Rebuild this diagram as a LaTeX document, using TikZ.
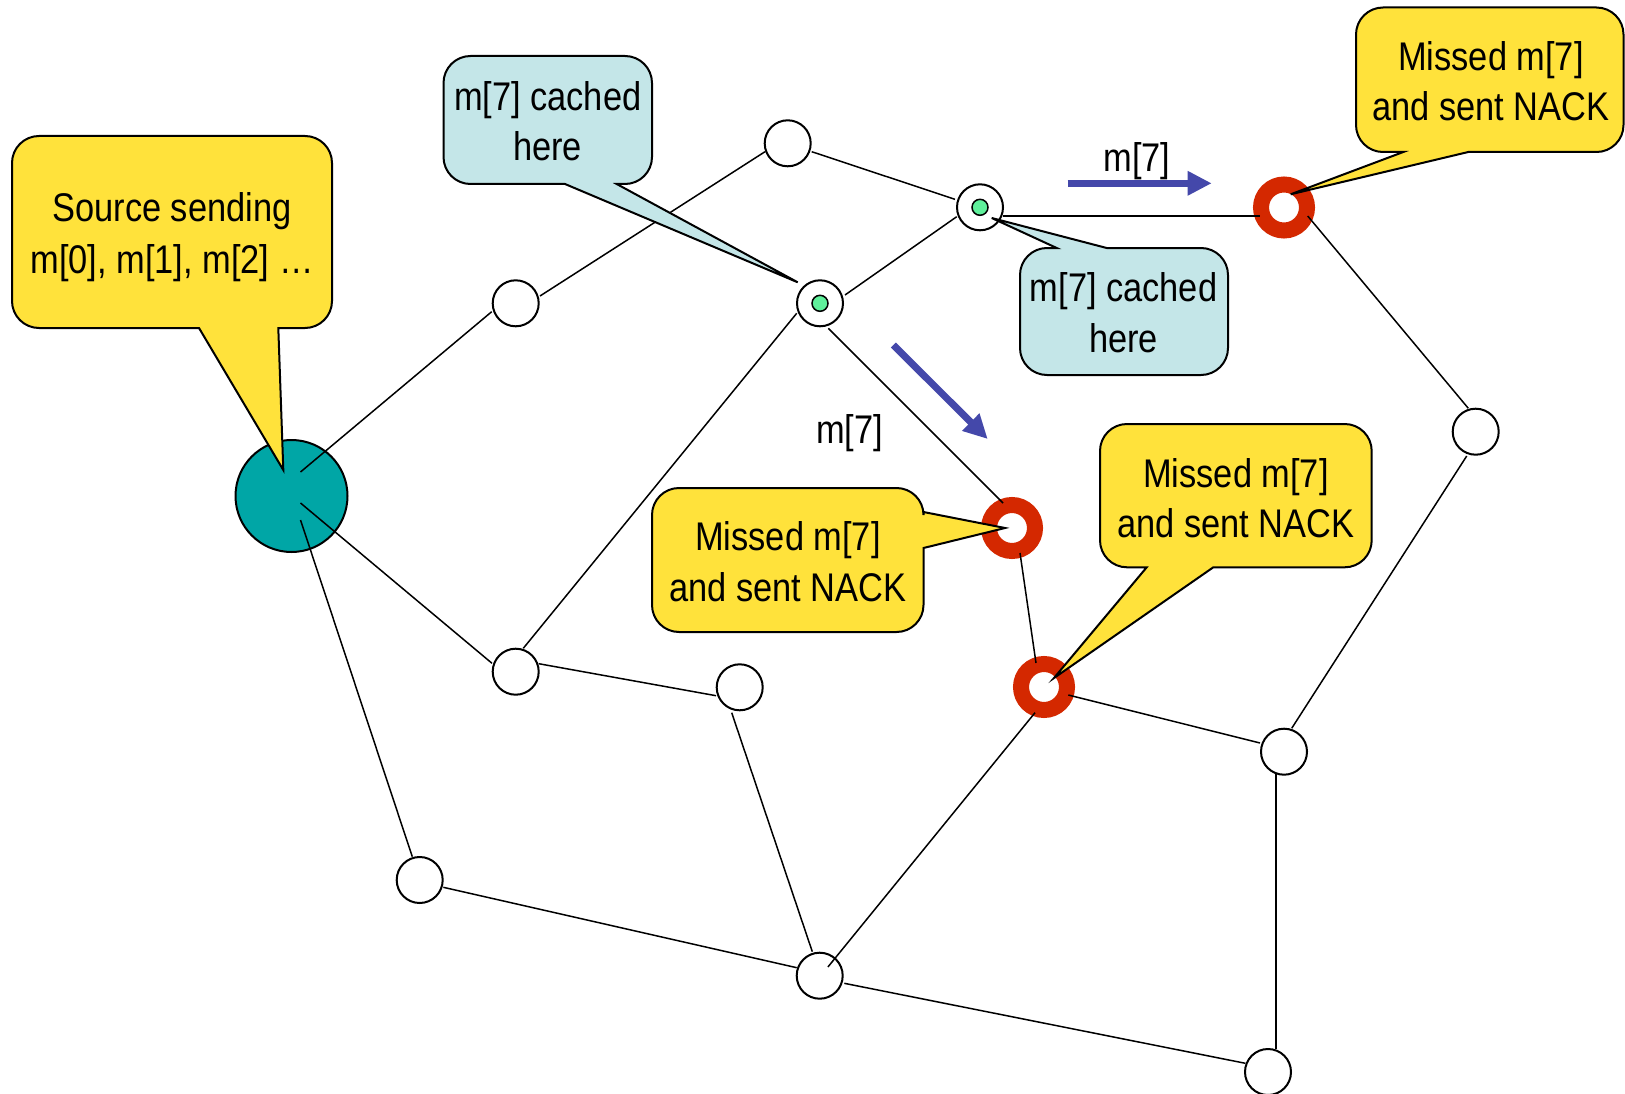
\documentclass[tikz,border=0pt]{standalone}
\usepackage{fontspec}
\setmainfont{Liberation Sans}[FakeStretch=0.86]
\usetikzlibrary{arrows.meta}

\definecolor{calloutyellow}{RGB}{255,226,59}
\definecolor{cachecyan}{RGB}{196,230,232}
\definecolor{lossred}{RGB}{212,40,0}
\definecolor{cachegreen}{RGB}{95,240,155}
\definecolor{sourceteal}{RGB}{0,166,166}
\definecolor{flowblue}{RGB}{68,72,170}

% corner radius of the speech bubbles
\newcommand\bubr{27}
% rounded box with a pointer: #1 style, #2..#5 = x0,y0,x1,y1,
% #6 points inserted on the top edge, #7 on the right edge, #8 on the bottom edge
\newcommand\speechbox[8]{%
  \path[#1] (#2+\bubr,#3) #6 -- (#4-\bubr,#3)
    arc[start angle=270,end angle=360,radius=\bubr] #7 -- (#4,#5-\bubr)
    arc[start angle=0,end angle=90,radius=\bubr] #8 -- (#2+\bubr,#5)
    arc[start angle=90,end angle=180,radius=\bubr] -- (#2,#3+\bubr)
    arc[start angle=180,end angle=270,radius=\bubr] -- cycle;}

\begin{document}
\begin{tikzpicture}[x=1pt,y=-1pt,
  router/.style={circle, draw, line width=2pt, fill=white, minimum size=46pt, inner sep=0pt},
  lossnode/.style={circle, draw=lossred, line width=16pt, fill=white, minimum size=46pt, inner sep=0pt},
  sourcenode/.style={circle, draw, line width=2pt, fill=sourceteal, minimum size=112pt, inner sep=0pt},
  cachedot/.style={circle, draw, line width=1.5pt, fill=cachegreen, minimum size=16pt, inner sep=0pt},
  link/.style={line width=1.5pt},
  txt/.style={font=\fontsize{40}{50}\selectfont, inner sep=0pt, anchor=base},
  yellowbox/.style={draw, line width=2pt, fill=calloutyellow},
  cyanbox/.style={draw, line width=2pt, fill=cachecyan},
  flow/.style={draw=flowblue, line width=7pt, -{Triangle[length=24pt,width=23pt]}}
]
\fill[white] (0,0) rectangle (1625,1094);
\useasboundingbox (0,0) rectangle (1625,1094);

% network nodes
\node[sourcenode] (S) at (291.5,496) {};
\node[router] (A) at (515.7,303.3) {};
\node[router] (B) at (787.7,143.3) {};
\node[router] (C) at (980,207.3) {};
\node[router] (D) at (820,303.3) {};
\node[lossnode] (R1) at (1284,207.5) {};
\node[router] (E) at (1475.7,431.7) {};
\node[lossnode] (R2) at (1012,528) {};
\node[lossnode] (R3) at (1044,687) {};
\node[router] (F) at (515.7,671.7) {};
\node[router] (G) at (739.7,687.3) {};
\node[router] (H) at (1284,751.7) {};
\node[router] (I) at (419.7,880) {};
\node[router] (J) at (819.7,975.7) {};
\node[router] (K) at (1268,1072) {};
\node[cachedot] (Cdot) at (C.center) {};
\node[cachedot] (Ddot) at (D.center) {};

% links
\draw[link] ([shift={(9,-24)}]S.center) -- ([shift={(-24,8.4)}]A.center);
\draw[link] ([shift={(9,7)}]S.center) -- ([shift={(-23.7,-8.4)}]F.center);
\draw[link] ([shift={(9,24)}]S.center) -- ([shift={(-7.4,-23.3)}]I.center);
\draw[link] ([shift={(24.3,-7.3)}]A.center) -- ([shift={(-22.7,8.4)}]B.center);
\draw[link] ([shift={(24,8.4)}]B.center) -- ([shift={(-25,-8)}]C.center);
\draw[link] ([shift={(-23.3,9.4)}]C.center) -- ([shift={(25,-8.3)}]D.center);
\draw[link] ([shift={(23,8.7)}]C.center) -- ([shift={(-24,8.5)}]R1.center);
\draw[link] ([shift={(-23.3,10)}]D.center) -- ([shift={(7.6,-23.4)}]F.center);
\draw[link] ([shift={(8.3,25)}]D.center) -- ([shift={(-9,-25)}]R2.center);
\draw[link] ([shift={(8,25)}]R2.center) -- ([shift={(-8,-24)}]R3.center);
\draw[link] ([shift={(-9,25.7)}]R3.center) -- ([shift={(8.2,-8.7)}]J.center);
\draw[link] ([shift={(24.3,8)}]R3.center) -- ([shift={(-24,-8.7)}]H.center);
\draw[link] ([shift={(23.7,8.5)}]R1.center) -- ([shift={(-7.4,-23.4)}]E.center);
\draw[link] ([shift={(-9,24.3)}]E.center) -- ([shift={(7.7,-23.4)}]H.center);
\draw[link] ([shift={(-8,22.3)}]H.center) -- ([shift={(8,-23)}]K.center);
\draw[link] ([shift={(23,-8)}]F.center) -- ([shift={(-23.7,8.4)}]G.center);
\draw[link] ([shift={(-8,25.4)}]G.center) -- ([shift={(-7.4,-24)}]J.center);
\draw[link] ([shift={(23.6,7.3)}]I.center) -- ([shift={(-23,-8)}]J.center);
\draw[link] ([shift={(24.6,7.6)}]J.center) -- ([shift={(-22.6,-8.7)}]K.center);

% retransmission flow
\coordinate (f1s) at (1067.7,183.3);
\coordinate (f1e) at (1211.7,183.3);
\coordinate (f2s) at (893.3,345);
\coordinate (f2e) at (987.7,439);
\draw[flow] (f1s) -- (f1e);
\draw[flow] (f2s) -- (f2e);
\node[txt] (lblTop) at (1137,171.7) {m[7]};
\node[txt] (lblMid) at (849.5,443) {m[7]};

% speech bubbles
\speechbox{yellowbox}{12}{136}{332}{328}{}{}{-- (278.3,328) -- (283.3,470) -- (199,328)}
\node[txt] (srcA) at (172,222) {Source sending};
\node[txt] (srcB) at (172,273) {m[0], m[1], m[2] …};

\speechbox{cyanbox}{443.5}{56}{652}{184}{}{}{-- (616.7,184) -- (797.7,282.3) -- (565,184)}
\node[txt] (cacheAa) at (547.7,110.7) {m[7] cached};
\node[txt] (cacheAb) at (547.7,160.7) {here};

\speechbox{cyanbox}{1020}{248}{1228}{375}{-- (1056.7,248) -- (991.7,218) -- (1106.7,248)}{}{}
\node[txt] (cacheBa) at (1123.5,301.7) {m[7] cached};
\node[txt] (cacheBb) at (1123.5,352.5) {here};

\speechbox{yellowbox}{1356}{7.5}{1623.5}{152}{}{}{-- (1468.3,152) -- (1290.7,194.3) -- (1403.3,152)}
\node[txt] (missAa) at (1491,70.7) {Missed m[7]};
\node[txt] (missAb) at (1491,120.7) {and sent NACK};

\speechbox{yellowbox}{652}{488}{923.5}{632}{}{-- (923.5,512) -- (1005,528) -- (923.5,548)}{}
\node[txt] (missBa) at (788,550.7) {Missed m[7]};
\node[txt] (missBb) at (788,601) {and sent NACK};

\speechbox{yellowbox}{1100}{424}{1371.7}{567.3}{}{}{-- (1213.3,567.3) -- (1054,678) -- (1146.7,567.3)}
\node[txt] (missCa) at (1236,487.3) {Missed m[7]};
\node[txt] (missCb) at (1236,537) {and sent NACK};
\end{tikzpicture}
\end{document}
